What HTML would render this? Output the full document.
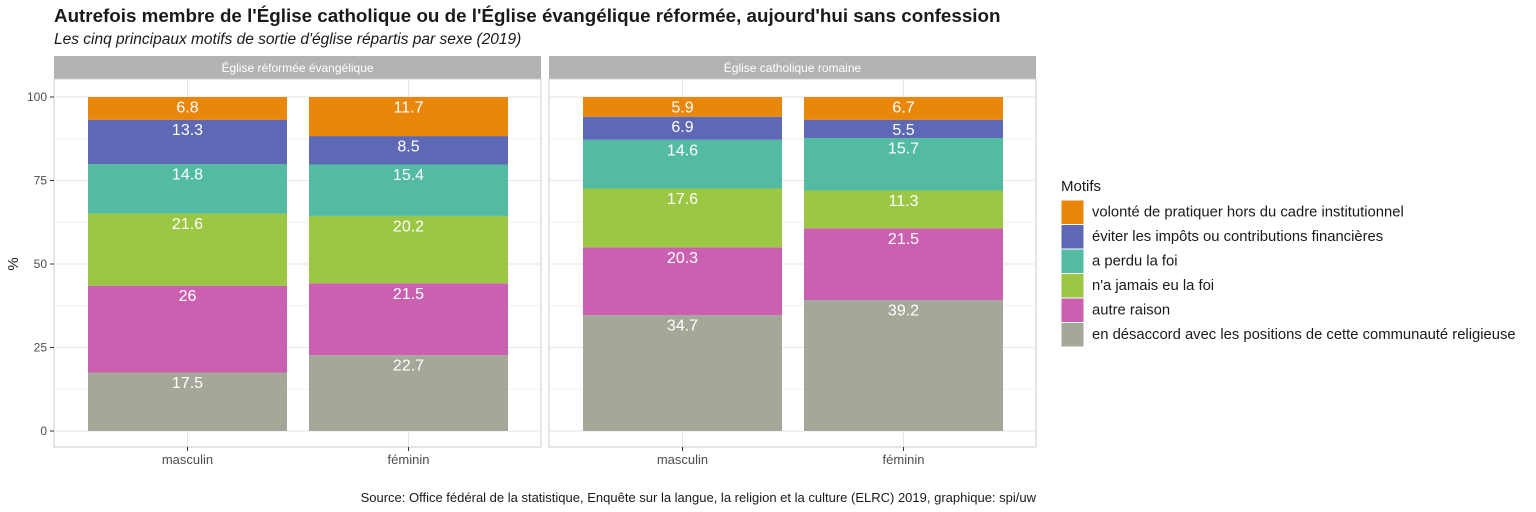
<!DOCTYPE html>
<html><head><meta charset="utf-8"><style>
body{margin:0;background:#fff;}
svg{display:block;font-family:"Liberation Sans",sans-serif;}
</style></head><body>
<svg width="1536" height="512" viewBox="0 0 1536 512">
<text x="54" y="22" font-size="18.8" font-weight="bold" fill="#1a1a1a">Autrefois membre de l'Église catholique ou de l'Église évangélique réformée, aujourd'hui sans confession</text>
<text x="54" y="44" font-size="15.5" font-style="italic" fill="#1a1a1a">Les cinq principaux motifs de sortie d'église répartis par sexe (2019)</text>
<g id="p1">
<rect x="54" y="56" width="487" height="23" fill="#b3b3b3"/>
<text x="297.5" y="72" font-size="12" fill="#fff" text-anchor="middle">Église réformée évangélique</text>
<rect x="54" y="79" width="487" height="368" fill="#fff" stroke="#ccc"/>
<g stroke="#f0f0f0" stroke-width="1">
<line x1="54" x2="541" y1="389.25" y2="389.25"/><line x1="54" x2="541" y1="305.75" y2="305.75"/><line x1="54" x2="541" y1="222.25" y2="222.25"/><line x1="54" x2="541" y1="138.75" y2="138.75"/>
</g>
<g stroke="#e6e6e6" stroke-width="1">
<line x1="54" x2="541" y1="431" y2="431"/><line x1="54" x2="541" y1="347.5" y2="347.5"/><line x1="54" x2="541" y1="264" y2="264"/><line x1="54" x2="541" y1="180.5" y2="180.5"/><line x1="54" x2="541" y1="97" y2="97"/>
<line x1="187.5" x2="187.5" y1="79" y2="447"/><line x1="408.5" x2="408.5" y1="79" y2="447"/>
</g>
</g>
<g id="p2">
<rect x="549" y="56" width="487" height="23" fill="#b3b3b3"/>
<text x="792.5" y="72" font-size="12" fill="#fff" text-anchor="middle">Église catholique romaine</text>
<rect x="549" y="79" width="487" height="368" fill="#fff" stroke="#ccc"/>
<g stroke="#f0f0f0" stroke-width="1">
<line x1="549" x2="1036" y1="389.25" y2="389.25"/><line x1="549" x2="1036" y1="305.75" y2="305.75"/><line x1="549" x2="1036" y1="222.25" y2="222.25"/><line x1="549" x2="1036" y1="138.75" y2="138.75"/>
</g>
<g stroke="#e6e6e6" stroke-width="1">
<line x1="549" x2="1036" y1="431" y2="431"/><line x1="549" x2="1036" y1="347.5" y2="347.5"/><line x1="549" x2="1036" y1="264" y2="264"/><line x1="549" x2="1036" y1="180.5" y2="180.5"/><line x1="549" x2="1036" y1="97" y2="97"/>
<line x1="682.5" x2="682.5" y1="79" y2="447"/><line x1="903.5" x2="903.5" y1="79" y2="447"/>
</g>
</g>
<g>
<rect x="88" y="372.55" width="199" height="58.45" fill="#A4A898"/>
<rect x="88" y="285.7" width="199" height="86.85" fill="#CB60B0"/>
<rect x="88" y="213.57" width="199" height="72.13" fill="#9BC744"/>
<rect x="88" y="164.13" width="199" height="49.44" fill="#52BBA1"/>
<rect x="88" y="119.7" width="199" height="44.43" fill="#5E68B4"/>
<rect x="88" y="97" width="199" height="22.7" fill="#E8870A"/>
<rect x="309" y="355.18" width="199" height="75.82" fill="#A4A898"/>
<rect x="309" y="283.37" width="199" height="71.81" fill="#CB60B0"/>
<rect x="309" y="215.9" width="199" height="67.47" fill="#9BC744"/>
<rect x="309" y="164.47" width="199" height="51.43" fill="#52BBA1"/>
<rect x="309" y="136.08" width="199" height="28.39" fill="#5E68B4"/>
<rect x="309" y="97" width="199" height="39.08" fill="#E8870A"/>
<rect x="583" y="315.1" width="199" height="115.9" fill="#A4A898"/>
<rect x="583" y="247.3" width="199" height="67.8" fill="#CB60B0"/>
<rect x="583" y="188.5" width="199" height="58.8" fill="#9BC744"/>
<rect x="583" y="139.75" width="199" height="48.75" fill="#52BBA1"/>
<rect x="583" y="116.7" width="199" height="23.05" fill="#5E68B4"/>
<rect x="583" y="97" width="199" height="19.7" fill="#E8870A"/>
<rect x="804" y="300.1" width="199" height="130.9" fill="#A4A898"/>
<rect x="804" y="228.3" width="199" height="71.8" fill="#CB60B0"/>
<rect x="804" y="190.5" width="199" height="37.8" fill="#9BC744"/>
<rect x="804" y="138.1" width="199" height="52.4" fill="#52BBA1"/>
<rect x="804" y="119.7" width="199" height="18.4" fill="#5E68B4"/>
<rect x="804" y="97" width="199" height="22.7" fill="#E8870A"/>
</g>
<g font-size="16" fill="#fff" text-anchor="middle" dominant-baseline="central">
<text x="187.5" y="383.5">17.5</text><text x="187.5" y="296.7">26</text><text x="187.5" y="224.6">21.6</text><text x="187.5" y="175.1">14.8</text><text x="187.5" y="130.7">13.3</text><text x="187.5" y="108">6.8</text>
<text x="408.5" y="366.2">22.7</text><text x="408.5" y="294.4">21.5</text><text x="408.5" y="226.9">20.2</text><text x="408.5" y="175.5">15.4</text><text x="408.5" y="147.1">8.5</text><text x="408.5" y="108">11.7</text>
<text x="682.5" y="326.1">34.7</text><text x="682.5" y="258.3">20.3</text><text x="682.5" y="199.5">17.6</text><text x="682.5" y="150.8">14.6</text><text x="682.5" y="127.7">6.9</text><text x="682.5" y="108">5.9</text>
<text x="903.5" y="311.1">39.2</text><text x="903.5" y="239.3">21.5</text><text x="903.5" y="201.5">11.3</text><text x="903.5" y="149.1">15.7</text><text x="903.5" y="130.7">5.5</text><text x="903.5" y="108">6.7</text>
</g>
<g font-size="12" fill="#4d4d4d" text-anchor="end" dominant-baseline="central">
<text x="47" y="431">0</text><text x="47" y="347.5">25</text><text x="47" y="264">50</text><text x="47" y="180.5">75</text><text x="47" y="97">100</text>
</g>
<g stroke="#333" stroke-width="1">
<line x1="50" x2="54" y1="431" y2="431"/><line x1="50" x2="54" y1="347.5" y2="347.5"/><line x1="50" x2="54" y1="264" y2="264"/><line x1="50" x2="54" y1="180.5" y2="180.5"/><line x1="50" x2="54" y1="97" y2="97"/>
<line x1="187.5" x2="187.5" y1="447" y2="451"/><line x1="408.5" x2="408.5" y1="447" y2="451"/><line x1="682.5" x2="682.5" y1="447" y2="451"/><line x1="903.5" x2="903.5" y1="447" y2="451"/>
</g>
<g font-size="13" fill="#4d4d4d" text-anchor="middle">
<text x="187.5" y="464">masculin</text><text x="408.5" y="464">féminin</text><text x="682.5" y="464">masculin</text><text x="903.5" y="464">féminin</text>
</g>
<text transform="translate(18,264) rotate(-90)" font-size="15" fill="#1a1a1a" text-anchor="middle">%</text>
<text x="1061" y="191" font-size="15" fill="#1a1a1a">Motifs</text>
<g stroke="#fff" stroke-width="1">
<rect x="1061" y="200" width="23" height="24.5" fill="#E8870A"/>
<rect x="1061" y="224.5" width="23" height="24.5" fill="#5E68B4"/>
<rect x="1061" y="249" width="23" height="24.5" fill="#52BBA1"/>
<rect x="1061" y="273.5" width="23" height="24.5" fill="#9BC744"/>
<rect x="1061" y="298" width="23" height="24.5" fill="#CB60B0"/>
<rect x="1061" y="322.5" width="23" height="24.5" fill="#A4A898"/>
</g>
<g font-size="14.8" fill="#1a1a1a" dominant-baseline="central">
<text x="1092" y="212.5">volonté de pratiquer hors du cadre institutionnel</text>
<text x="1092" y="237">éviter les impôts ou contributions financières</text>
<text x="1092" y="261.5">a perdu la foi</text>
<text x="1092" y="286">n'a jamais eu la foi</text>
<text x="1092" y="310.5">autre raison</text>
<text x="1092" y="335">en désaccord avec les positions de cette communauté religieuse</text>
</g>
<text x="1036" y="502" font-size="13" fill="#1a1a1a" text-anchor="end">Source: Office fédéral de la statistique, Enquête sur la langue, la religion et la culture (ELRC) 2019, graphique: spi/uw</text>
</svg>
</body></html>
